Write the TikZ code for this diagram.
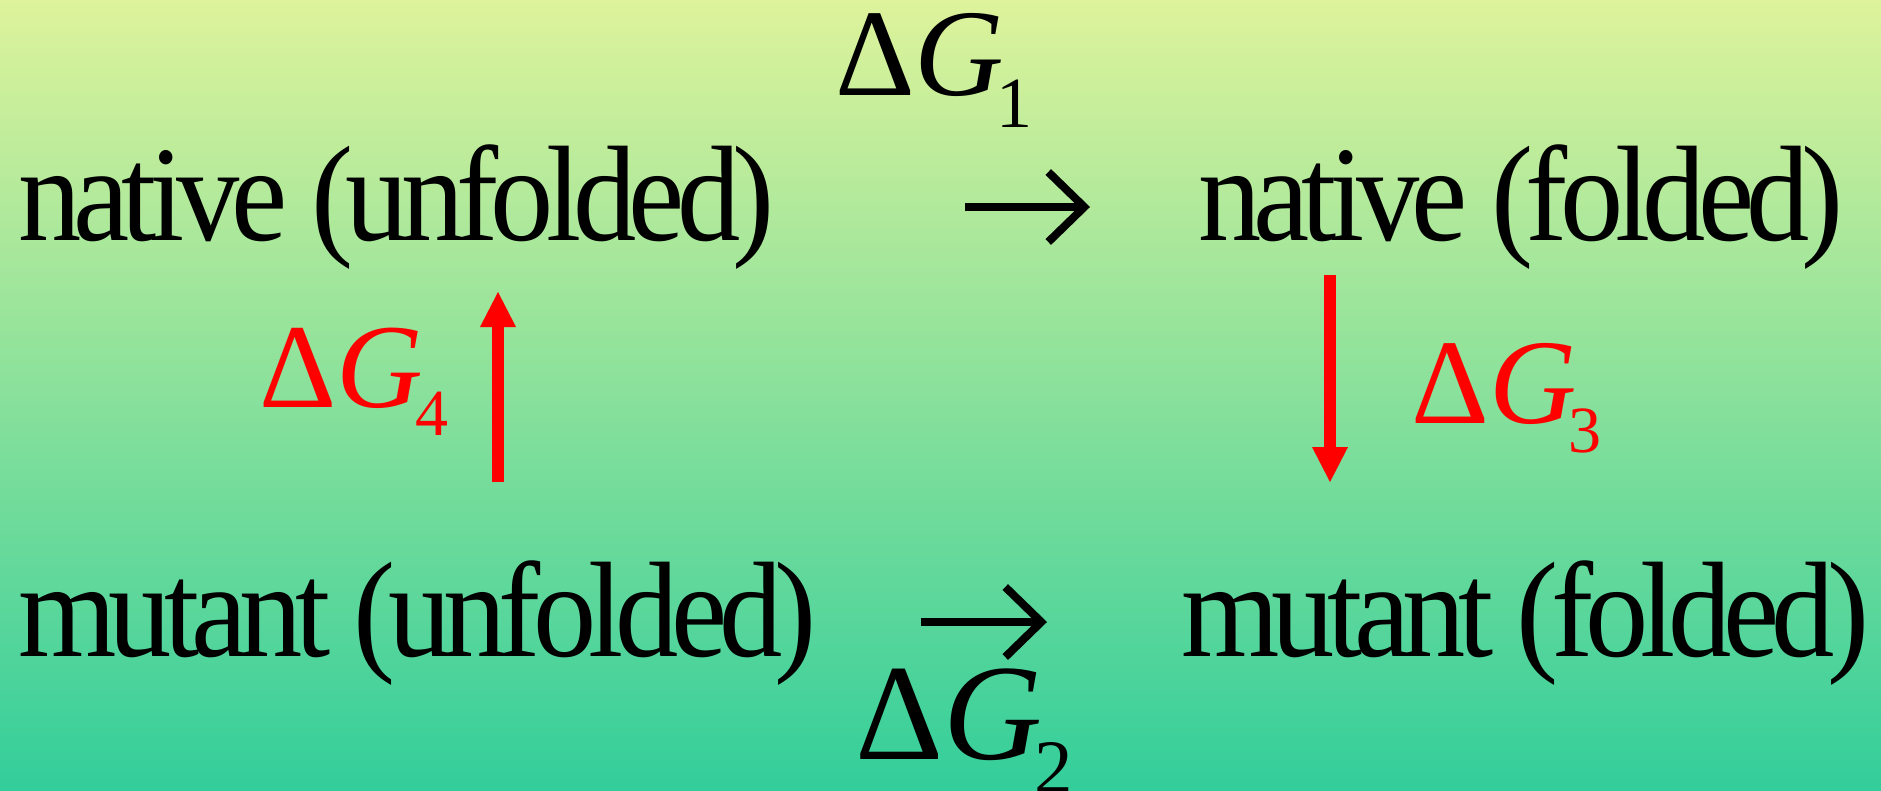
\documentclass[tikz,border=0pt]{standalone}
\usepackage{fontspec}
\setmainfont{Liberation Serif}
\newfontfamily\condfont[FakeStretch=0.93,LetterSpace=-5.8]{Liberation Serif}
\usetikzlibrary{arrows.meta}
\definecolor{bgtop}{RGB}{222,243,155}
\definecolor{bgbot}{RGB}{51,206,155}
\definecolor{myred}{RGB}{255,0,0}
\newcommand{\dglabel}[4]{{\fontsize{#1}{#1}\selectfont Δ\textit{G}}\kern-8pt\raisebox{-#3pt}{\fontsize{#2}{#2}\selectfont #4}}
\tikzset{
  state/.style={anchor=base west, inner sep=0pt, font=\condfont\fontsize{136}{136}\selectfont},
  dglab/.style={anchor=base west, inner sep=0pt},
  blackarrow/.style={line width=8pt, -{Straight Barb[length=36pt,width=70pt]}},
  redarrow/.style={draw=myred, line width=12pt, -{Triangle[length=35pt,width=36pt,line width=0pt]}, fill=myred},
}
\begin{document}
\begin{tikzpicture}[x=1pt,y=-1pt]
\shade[top color=bgtop, bottom color=bgbot] (0,0) rectangle (1881,790);
\useasboundingbox (0,0) rectangle (1881,790);
% states
\node[state] (nu) at (18,240) {native (unfolded)};
\node[state] (nf) at (1198,240) {native (folded)};
\node[state] (mu) at (18,656) {mutant (unfolded)};
\node[state] (mf) at (1181,656) {mutant (folded)};
% labels
\node[dglab] (g1) at (835,95) {\dglabel{124}{72}{32}{1}};
\node[dglab] (g2) at (855,759) {\dglabel{137}{77}{34}{2}};
\node[dglab, text=myred] (g4) at (259,407) {\dglabel{120}{66}{28}{4}};
\node[dglab, text=myred] (g3) at (1411,423) {\dglabel{121}{66}{29}{3}};
% arrow end points
\coordinate (a1s) at (965,207);
\coordinate (a1e) at (1090,207);
\coordinate (a2s) at (921,622);
\coordinate (a2e) at (1047,622);
\coordinate (a4s) at (498,482);
\coordinate (a4e) at (498,292);
\coordinate (a3s) at (1330,275);
\coordinate (a3e) at (1330,482);
\draw[blackarrow] (a1s) -- (a1e);
\draw[blackarrow] (a2s) -- (a2e);
\draw[redarrow] (a4s) -- (a4e);
\draw[redarrow] (a3s) -- (a3e);
\end{tikzpicture}
\end{document}
